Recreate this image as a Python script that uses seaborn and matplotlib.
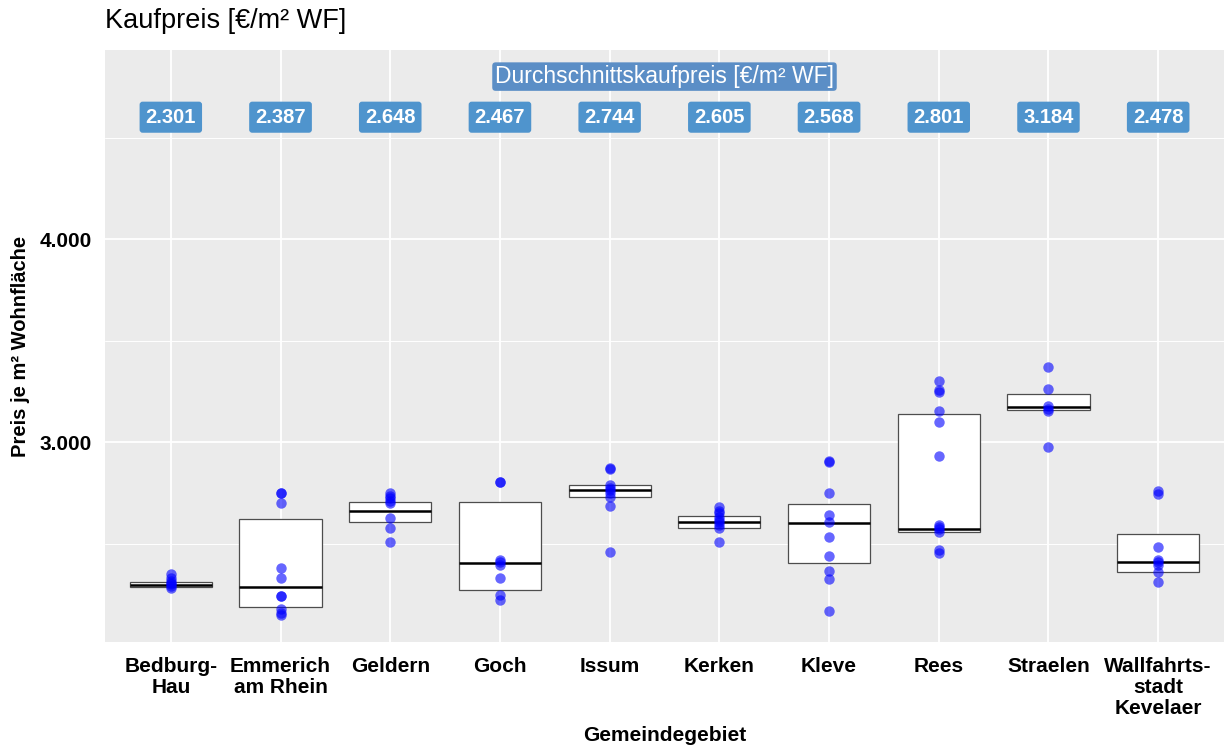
import pandas as pd
import numpy as np
import matplotlib
matplotlib.use("Agg")
import matplotlib.pyplot as plt
import seaborn as sns

# Gemeinden (x axis) and their tick labels
gemeinden = ["Bedburg-Hau", "Emmerich am Rhein", "Geldern", "Goch", "Issum",
             "Kerken", "Kleve", "Rees", "Straelen", "Wallfahrtsstadt Kevelaer"]
tick_labels = ["Bedburg-\nHau", "Emmerich\nam Rhein", "Geldern", "Goch", "Issum",
               "Kerken", "Kleve", "Rees", "Straelen", "Wallfahrts-\nstadt\nKevelaer"]

# average price per Gemeinde (label row)
mittel = [2301, 2387, 2648, 2467, 2744, 2605, 2568, 2801, 3184, 2478]

# box statistics
q1 = [2286, 2187, 2606, 2271, 2729, 2576, 2404, 2557, 3158, 2360]
median = [2296, 2286, 2660, 2404, 2764, 2606, 2601, 2571, 3172, 2409]
q3 = [2310, 2621, 2704, 2704, 2788, 2635, 2695, 3138, 3236, 2547]

# single observations per Gemeinde
p_bedburg = [2350, 2330, 2315, 2305, 2300, 2291, 2281]
p_emmerich = [2749, 2749, 2700, 2379, 2330, 2241, 2241, 2177, 2160, 2148]
p_geldern = [2749, 2735, 2724, 2710, 2700, 2626, 2576, 2507]
p_goch = [2803, 2803, 2419, 2410, 2394, 2330, 2246, 2222]
p_issum = [2872, 2865, 2788, 2775, 2764, 2750, 2729, 2685, 2458]
p_kerken = [2680, 2660, 2650, 2630, 2615, 2606, 2590, 2576, 2507]
p_kleve = [2906, 2900, 2749, 2640, 2606, 2532, 2438, 2365, 2325, 2167]
p_rees = [3300, 3256, 3246, 3153, 3099, 2931, 2590, 2581, 2570, 2557, 2468, 2453]
p_straelen = [3369, 3261, 3177, 3165, 3153, 2975]
p_kevelaer = [2759, 2745, 2483, 2419, 2410, 2394, 2360, 2310]

punkte = [p_bedburg, p_emmerich, p_geldern, p_goch, p_issum,
          p_kerken, p_kleve, p_rees, p_straelen, p_kevelaer]

sns.set_theme(style="darkgrid", rc={
    "axes.facecolor": "#EBEBEB",
    "grid.color": "white",
    "axes.edgecolor": "none",
    "axes.labelcolor": "black",
    "text.color": "black",
})
plt.rcParams["font.family"] = ["Liberation Sans", "DejaVu Sans"]

def fmt(v):
    return f"{v:,.0f}".replace(",", ".")

def main():
    rows = []
    for g, werte in zip(gemeinden, punkte):
        for w in werte:
            rows.append({"Gemeinde": g, "Preis": w})
    df = pd.DataFrame(rows)

    fig = plt.figure(figsize=(12.31, 7.51), dpi=100)
    ax = fig.add_axes([105 / 1231, 1 - 642 / 751, 1119 / 1231, 592 / 751])

    sns.stripplot(data=df, x="Gemeinde", y="Preis", order=gemeinden, jitter=False,
                  color="#0000FF", alpha=0.6, size=7.5, linewidth=0, zorder=3, ax=ax)

    stats = []
    for i in range(len(gemeinden)):
        stats.append({"med": median[i], "q1": q1[i], "q3": q3[i],
                      "whislo": q1[i], "whishi": q3[i], "fliers": []})
    ax.bxp(stats, positions=range(len(gemeinden)), widths=0.75, patch_artist=True,
           showcaps=False, showfliers=False, manage_ticks=False,
           boxprops=dict(facecolor="white", edgecolor="#4d4d4d", linewidth=0.9, zorder=2),
           medianprops=dict(color="black", linewidth=1.8, zorder=2.5),
           whiskerprops=dict(linewidth=0))

    # average labels
    for i, m in enumerate(mittel):
        ax.text(i, 4600, fmt(m), ha="center", va="center", color="white",
                fontsize=14.5, fontweight="bold", zorder=4,
                bbox=dict(boxstyle="round,pad=0.3,rounding_size=0.15",
                          fc="#4F94CD", ec="none"))
    ax.text(4.5, 4800, "Durchschnittskaufpreis [€/m² WF]", ha="center", va="center",
            color="white", fontsize=16.5, zorder=4,
            bbox=dict(boxstyle="round,pad=0.12,rounding_size=0.15",
                      fc="#5B8EC6", ec="none"))

    ax.set_xlim(-0.6, 9.6)
    ax.set_ylim(2015, 4931)
    ax.set_xticks(range(len(gemeinden)))
    ax.set_xticklabels(tick_labels, fontweight="bold", fontsize=15, linespacing=1.15)
    ax.set_yticks([3000, 4000])
    ax.set_yticklabels([fmt(3000), fmt(4000)], fontweight="bold", fontsize=15)
    ax.set_yticks([2500, 3500, 4500], minor=True)
    ax.grid(which="major", color="white", linewidth=1.3)
    ax.grid(which="minor", axis="y", color="white", linewidth=0.7)
    ax.tick_params(axis="both", which="major", length=4.5, width=1, color="#333333",
                   labelcolor="black")
    ax.tick_params(axis="x", which="major", pad=6)
    ax.tick_params(axis="y", which="major", pad=5)
    ax.tick_params(axis="both", which="minor", length=0)

    ax.set_xlabel("Gemeindegebiet", fontweight="bold", fontsize=15, labelpad=6)
    ax.set_ylabel("Preis je m² Wohnfläche", fontweight="bold", fontsize=14.5, labelpad=7)

    fig.text(105 / 1231, 1 - 21 / 751, "Kaufpreis [€/m² WF]", ha="left", va="center",
             fontsize=19.5)

    fig.savefig("out.png", dpi=100)
    plt.close(fig)

if __name__ == "__main__":
    main()
